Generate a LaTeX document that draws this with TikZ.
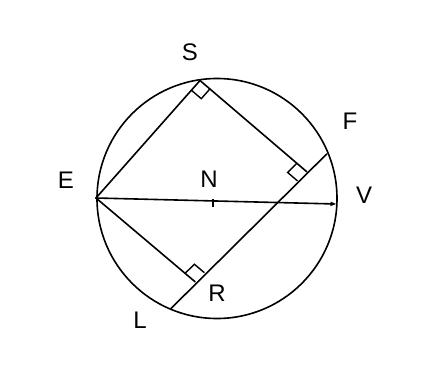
\documentclass[tikz,border=0pt]{standalone}
\usepackage{fontspec}
\setmainfont{Liberation Sans}
\usetikzlibrary{calc,arrows.meta}
\begin{document}
\begin{tikzpicture}[x=1pt,y=-1pt,
  geo/.style={line width=1.6pt,line cap=round,line join=round},
  ramark/.style={line width=1.4pt},
  lbl/.style={font=\fontsize{24}{24}\selectfont,inner sep=0pt}]
\useasboundingbox (0,0) rectangle (427,375);
\fill[white] (0,0) rectangle (427,375);
\coordinate (C) at (217,198.5);
\coordinate (S) at (200,80.5);
\coordinate (E) at (96,198);
\coordinate (V) at (336.5,204);
\coordinate (N) at (213,203.3);
\coordinate (F) at (326.7,154);
\coordinate (L) at (171,308.5);
\coordinate (P) at (306.7,171.7);
\coordinate (R) at (195,281.7);
% circle
\draw[geo] (C) circle[radius=120];
% lines
\draw[geo] (S) -- (E);
\draw[geo] (S) -- (P);
\draw[geo] (L) -- (F);
\draw[geo] (E) -- (R);
\draw[geo,-{Triangle[length=6pt,width=4pt]}] (E) -- (V);
% tick at N
\draw[line width=2pt] ($(N)+(0,-4)$) -- ($(N)+(0,4)$);
% right angle marks
\draw[ramark] ($(S)!13pt!(E)$) -- ($($(S)!13pt!(E)$)+($(S)!13pt!(P)$)-(S)$) -- ($(S)!13pt!(P)$);
\draw[ramark] ($(P)!13pt!(S)$) -- ($($(P)!13pt!(S)$)+($(P)!13pt!(L)$)-(P)$) -- ($(P)!13pt!(L)$);
\draw[ramark] ($(R)!13pt!(E)$) -- ($($(R)!13pt!(E)$)+($(R)!13pt!(F)$)-(R)$) -- ($(R)!13pt!(F)$);
% labels
\node[lbl] (lS) at (190,52) {S};
\node[lbl] (lF) at (350,121) {F};
\node[lbl] (lE) at (66,180) {E};
\node[lbl] (lN) at (209,179) {N};
\node[lbl] (lV) at (364,195) {V};
\node[lbl] (lR) at (217,293) {R};
\node[lbl] (lL) at (140,320) {L};
\end{tikzpicture}
\end{document}
